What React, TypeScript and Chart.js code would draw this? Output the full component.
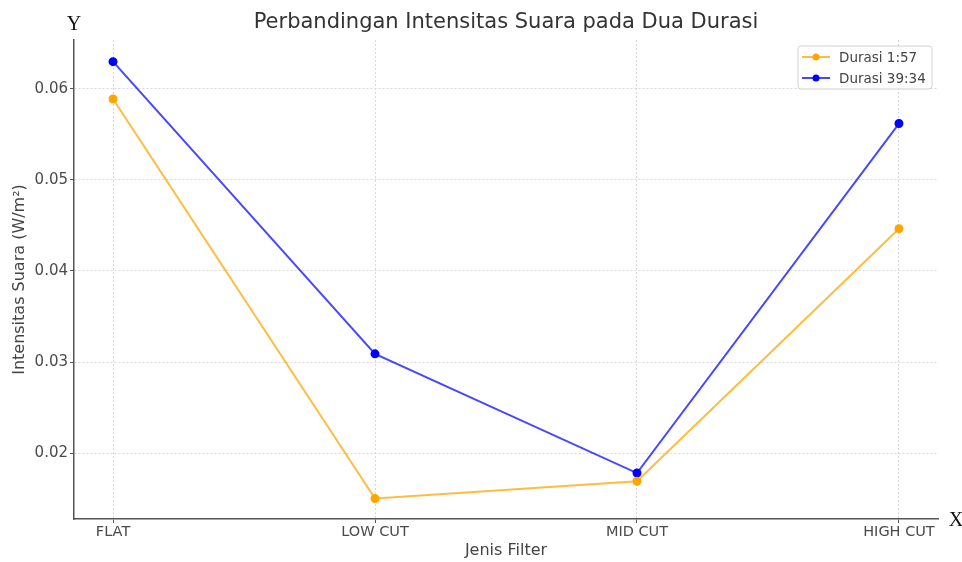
import React, { useEffect, useRef } from "react";
import { Chart, registerables } from "chart.js";

Chart.register(...registerables);

const categories = ["FLAT", "LOW CUT", "MID CUT", "HIGH CUT"];
const durasi157 = [0.0589, 0.0150, 0.0169, 0.04465];
const durasi3934 = [0.0630, 0.0309, 0.0178, 0.0562];
const yTicks = [0.02, 0.03, 0.04, 0.05, 0.06];
const seriesNames = ["Durasi 1:57", "Durasi 39:34"];

const FONT = "'DejaVu Sans', sans-serif";

const textPlugin = {
  id: "textPlugin",
  afterDraw(chart: any) {
    const { ctx, chartArea } = chart;
    const cx = (chartArea.left + chartArea.right) / 2;
    const cy = (chartArea.top + chartArea.bottom) / 2;
    ctx.save();
    // title
    ctx.fillStyle = "#333";
    ctx.font = `21px ${FONT}`;
    ctx.textAlign = "center";
    ctx.textBaseline = "middle";
    ctx.fillText("Perbandingan Intensitas Suara pada Dua Durasi", cx, 23);
    // axis labels
    ctx.fillStyle = "#444";
    ctx.font = `16px ${FONT}`;
    ctx.fillText("Jenis Filter", cx, 551);
    ctx.save();
    ctx.translate(20, cy);
    ctx.rotate(-Math.PI / 2);
    ctx.fillText("Intensitas Suara (W/m\u00B2)", 0, 0);
    ctx.restore();
    // Y and X serif labels
    ctx.fillStyle = "#111";
    ctx.font = `20px 'Liberation Serif', 'DejaVu Serif', serif`;
    ctx.fillText("Y", 74, 25);
    ctx.fillText("X", 956, 521);
    // legend
    const lx = 798, ly = 46, lw = 134, lh = 43;
    ctx.beginPath();
    ctx.roundRect(lx, ly, lw, lh, 3);
    ctx.fillStyle = "rgba(255,255,255,0.85)";
    ctx.fill();
    ctx.strokeStyle = "#d0d0d0";
    ctx.lineWidth = 1;
    ctx.stroke();
    const colorsLine = ["rgba(255,165,0,0.75)", "rgba(0,0,255,0.72)"];
    const colorsPt = ["#ffa500", "#0000ff"];
    const rows = [57, 78];
    ctx.font = `13.5px ${FONT}`;
    ctx.textAlign = "left";
    rows.forEach((ry, i) => {
      ctx.strokeStyle = colorsLine[i];
      ctx.lineWidth = 2;
      ctx.beginPath();
      ctx.moveTo(802, ry);
      ctx.lineTo(830, ry);
      ctx.stroke();
      ctx.fillStyle = colorsPt[i];
      ctx.beginPath();
      ctx.arc(816, ry, 3.5, 0, Math.PI * 2);
      ctx.fill();
      ctx.fillStyle = "#444";
      ctx.fillText(seriesNames[i], 839, ry + 1);
    });
    ctx.restore();
  },
};

export default function App() {
  const ref = useRef<HTMLCanvasElement>(null);
  useEffect(() => {
    document.body.style.margin = "0";
    const chart = new Chart(ref.current!, {
      type: "line",
      data: {
        datasets: [
          {
            label: seriesNames[0],
            data: durasi157.map((y, i) => ({ x: i, y })),
            borderColor: "rgba(255,165,0,0.75)",
            backgroundColor: "#ffa500",
            pointBackgroundColor: "#ffa500",
            pointBorderColor: "#ffa500",
            pointRadius: 3.5,
            borderWidth: 2,
            tension: 0,
          },
          {
            label: seriesNames[1],
            data: durasi3934.map((y, i) => ({ x: i, y })),
            borderColor: "rgba(0,0,255,0.72)",
            backgroundColor: "#0000ff",
            pointBackgroundColor: "#0000ff",
            pointBorderColor: "#0000ff",
            pointRadius: 3.5,
            borderWidth: 2,
            tension: 0,
          },
        ],
      },
      options: {
        animation: false,
        responsive: false,
        maintainAspectRatio: false,
        layout: { padding: { top: 40, right: 24, left: 0, bottom: 0 } },
        plugins: {
          legend: { display: false },
          title: { display: false },
          tooltip: { enabled: false },
        },
        scales: {
          x: {
            type: "linear",
            min: -0.149,
            max: 3.149,
            afterFit: (s: any) => {
              s.height = 43;
            },
            afterBuildTicks: (s: any) => {
              s.ticks = categories.map((_, i) => ({ value: i }));
            },
            ticks: {
              callback: (v: any) => categories[Math.round(Number(v))] ?? "",
              color: "#4a4a4a",
              font: { family: FONT, size: 14.5 },
              padding: 1,
              maxRotation: 0,
              autoSkip: false,
            },
            grid: {
              color: "#d8d8d8",
              tickBorderDash: [],
              tickColor: "#555",
              tickLength: 4,
              lineWidth: 1,
            } as any,
            border: { display: true, color: "#555", width: 1.5, dash: [2, 2] },
          },
          y: {
            type: "linear",
            min: 0.01275,
            max: 0.06538,
            afterFit: (s: any) => {
              s.width = 74;
            },
            afterBuildTicks: (s: any) => {
              s.ticks = yTicks.map((v) => ({ value: v }));
            },
            ticks: {
              callback: (v: any) => Number(v).toFixed(2),
              color: "#4a4a4a",
              font: { family: FONT, size: 15 },
              padding: 2,
            },
            grid: {
              color: "#d8d8d8",
              tickBorderDash: [],
              tickColor: "#555",
              tickLength: 4,
              lineWidth: 1,
            } as any,
            border: { display: true, color: "#555", width: 1.5, dash: [2, 2] },
          },
        },
      } as any,
      plugins: [textPlugin],
    });
    return () => chart.destroy();
  }, []);
  return (
    <div style={{ width: 962, height: 562, background: "#fff" }}>
      <canvas ref={ref} width={962} height={562} />
    </div>
  );
}
